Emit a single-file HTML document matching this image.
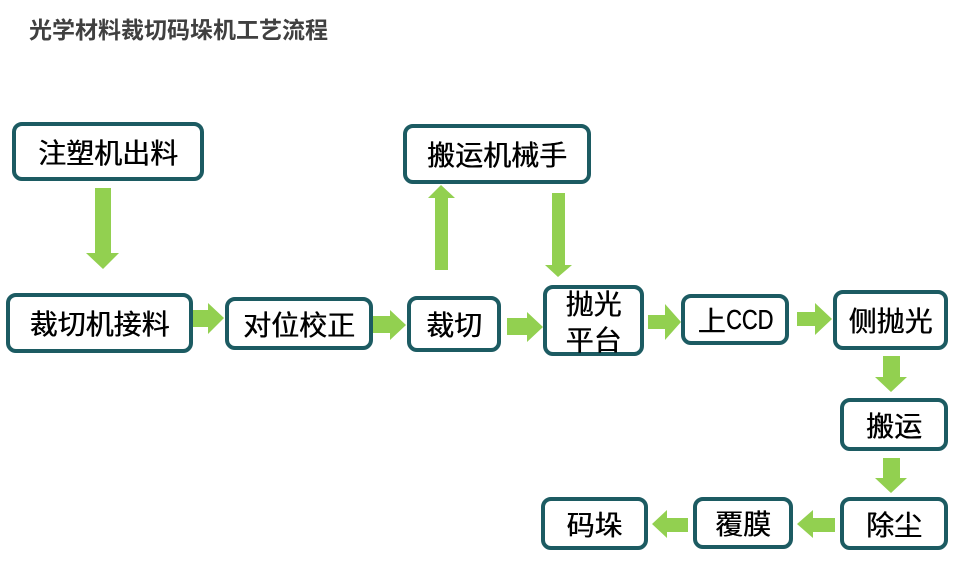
<!DOCTYPE html>
<html>
<head>
<meta charset="utf-8">
<style>
  html,body{margin:0;padding:0;background:#fff;}
  body{width:964px;height:580px;position:relative;overflow:hidden;font-family:"Liberation Sans","Noto Sans CJK SC",sans-serif;}
  .title{position:absolute;left:29px;top:17px;font-size:23px;line-height:23px;font-weight:bold;color:#404040;letter-spacing:0px;white-space:nowrap;font-family:"Noto Sans CJK SC",sans-serif;}
  .box{position:absolute;box-sizing:border-box;border:4px solid #1c5b62;border-radius:10px;background:#fff;display:flex;align-items:center;justify-content:center;text-align:center;font-size:28px;color:#000;font-weight:normal;line-height:36px;white-space:nowrap;font-family:"Noto Sans CJK SC",sans-serif;text-shadow:0.5px 0 0 #000;}
  .cond{display:inline-block;transform:scaleX(0.78);transform-origin:left center;font-family:"Liberation Sans",sans-serif;margin-right:-14px;}
  svg{position:absolute;left:0;top:0;}
</style>
</head>
<body>
<div class="title">光学材料裁切码垛机工艺流程</div>

<svg width="964" height="580" viewBox="0 0 964 580">
  <g fill="#92d050">
    <polygon points="95,188 111,188 111,253 119,253 103,269 86,253 95,253"/>
    <polygon points="435,270 448,270 448,198 455,198 441,185 428,198 435,198"/>
    <polygon points="552,193 565,193 565,265 572,265 558,277 545,265 552,265"/>
    <polygon points="193,310 208,310 208,303 224,318 208,334 208,327 193,327"/>
    <polygon points="372,316 390,316 390,310 406,325 390,340 390,333 372,333"/>
    <polygon points="507,318 527,318 527,312 543,327 527,342 527,335 507,335"/>
    <polygon points="648,315 665,315 665,304 681,322 665,340 665,329 648,329"/>
    <polygon points="797,312 815,312 815,303 832,319 815,335 815,326 797,326"/>
    <polygon points="883,356 900,356 900,377 907,377 891,392 875,377 883,377"/>
    <polygon points="883,458 900,458 900,478 907,478 891,493 875,478 883,478"/>
    <polygon points="835,518 813,518 813,510 797,524 813,538 813,532 835,532"/>
    <polygon points="688,518 667,518 667,510 652,524 667,538 667,532 688,532"/>
  </g>
</svg>

<div class="box" style="left:12px;top:122px;width:192px;height:59px;">注塑机出料</div>
<div class="box" style="left:403px;top:124px;width:188px;height:60px;">搬运机械手</div>

<div class="box" style="left:6px;top:293px;width:187px;height:60px;">裁切机接料</div>
<div class="box" style="left:225px;top:297px;width:148px;height:53px;">对位校正</div>
<div class="box" style="left:407px;top:296px;width:94px;height:56px;">裁切</div>
<div class="box" style="left:543px;top:285px;width:101px;height:71px;">抛光<br>平台</div>
<div class="box" style="left:681px;top:294px;width:108px;height:51px;">上<span class="cond">CCD</span></div>
<div class="box" style="left:833px;top:290px;width:115px;height:60px;">侧抛光</div>

<div class="box" style="left:840px;top:398px;width:108px;height:53px;">搬运</div>
<div class="box" style="left:840px;top:497px;width:108px;height:53px;">除尘</div>
<div class="box" style="left:693px;top:497px;width:100px;height:52px;">覆膜</div>
<div class="box" style="left:541px;top:497px;width:107px;height:53px;">码垛</div>
</body>
</html>
